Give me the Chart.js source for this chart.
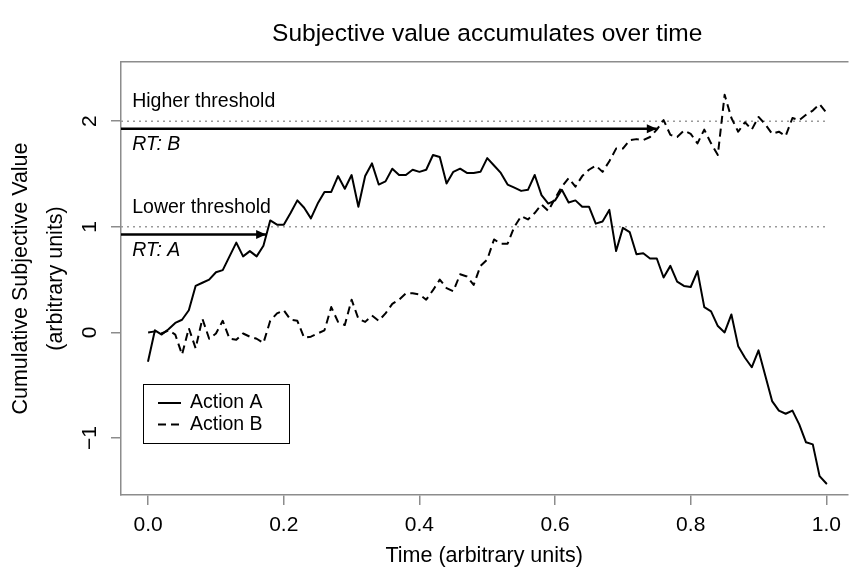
<!DOCTYPE html>
<html>
<head>
<meta charset="utf-8">
<script src="https://cdn.jsdelivr.net/npm/chart.js@4/dist/chart.umd.min.js"></script>
<style>
html,body{margin:0;padding:0;background:#fff;overflow:hidden}
#wrap{width:849px;height:569px;position:relative}
</style>
</head>
<body>
<div id="wrap"><canvas id="c" width="849" height="569"></canvas></div>
<script>
// ---------- data ----------
const chartTitle = 'Subjective value accumulates over time';
const xAxisTitle = 'Time (arbitrary units)';
const yAxisTitle = ['Cumulative Subjective Value', '(arbitrary units)'];
const seriesNames = ['Action A', 'Action B'];

const timePoints = [
  0.00,0.01,0.02,0.03,0.04,0.05,0.06,0.07,0.08,0.09,
  0.10,0.11,0.12,0.13,0.14,0.15,0.16,0.17,0.18,0.19,
  0.20,0.21,0.22,0.23,0.24,0.25,0.26,0.27,0.28,0.29,
  0.30,0.31,0.32,0.33,0.34,0.35,0.36,0.37,0.38,0.39,
  0.40,0.41,0.42,0.43,0.44,0.45,0.46,0.47,0.48,0.49,
  0.50,0.51,0.52,0.53,0.54,0.55,0.56,0.57,0.58,0.59,
  0.60,0.61,0.62,0.63,0.64,0.65,0.66,0.67,0.68,0.69,
  0.70,0.71,0.72,0.73,0.74,0.75,0.76,0.77,0.78,0.79,
  0.80,0.81,0.82,0.83,0.84,0.85,0.86,0.87,0.88,0.89,
  0.90,0.91,0.92,0.93,0.94,0.95,0.96,0.97,0.98,0.99,
  1.00
];

const actionA = [
  -0.27, 0.02,-0.02, 0.03, 0.09, 0.12, 0.21, 0.44, 0.47, 0.50,
   0.57, 0.59, 0.72, 0.85, 0.72, 0.77, 0.72, 0.82, 1.06, 1.02,
   1.02, 1.13, 1.25, 1.18, 1.08, 1.22, 1.33, 1.33, 1.48, 1.36,
   1.49, 1.19, 1.48, 1.60, 1.40, 1.43, 1.55, 1.49, 1.49, 1.54,
   1.52, 1.54, 1.68, 1.66, 1.41, 1.52, 1.55, 1.51, 1.51, 1.52,
   1.65, 1.58, 1.51, 1.40, 1.37, 1.34, 1.35, 1.49, 1.30, 1.22,
   1.25, 1.35, 1.23, 1.25, 1.19, 1.19, 1.03, 1.05, 1.16, 0.77,
   0.99, 0.95, 0.74, 0.75, 0.70, 0.70, 0.52, 0.63, 0.48, 0.44,
   0.43, 0.58, 0.24, 0.20, 0.06, 0.00, 0.17,-0.13,-0.24,-0.33,
  -0.17,-0.41,-0.65,-0.74,-0.77,-0.74,-0.87,-1.04,-1.06,-1.36,
  -1.43
];

const actionB = [
   0.00, 0.01,-0.01, 0.02,-0.02,-0.21, 0.04,-0.15, 0.13,-0.06,
  -0.01, 0.11,-0.06,-0.07,-0.01,-0.04,-0.06,-0.10, 0.11, 0.18,
   0.21, 0.12, 0.11,-0.05,-0.04,-0.01, 0.02, 0.24, 0.10, 0.07,
   0.31, 0.13, 0.10, 0.16, 0.11, 0.18, 0.27, 0.31, 0.37, 0.37,
   0.36, 0.31, 0.40, 0.50, 0.42, 0.39, 0.55, 0.53, 0.45, 0.63,
   0.69, 0.88, 0.84, 0.84, 1.00, 1.10, 1.07, 1.13, 1.21, 1.15,
   1.27, 1.38, 1.46, 1.38, 1.48, 1.54, 1.58, 1.52, 1.62, 1.74,
   1.74, 1.82, 1.83, 1.82, 1.85, 1.92, 2.01, 1.87, 1.85, 1.91,
   1.88, 1.79, 1.92, 1.79, 1.68, 2.25, 2.03, 1.90, 1.99, 1.92,
   2.04, 1.97, 1.88, 1.90, 1.86, 2.03, 2.01, 2.06, 2.10, 2.16,
   2.08
];

const thresholdNames = ['Higher threshold', 'Lower threshold'];
const thresholdValues = [2, 1];
const rtNames = ['RT: B', 'RT: A'];
const rtValues = [0.75, 0.174];

const xTickValues = [0, 0.2, 0.4, 0.6, 0.8, 1.0];
const xTickLabels = ['0.0', '0.2', '0.4', '0.6', '0.8', '1.0'];
const yTickValues = [-1, 0, 1, 2];
const yTickLabels = ['\u22121', '0', '1', '2'];

// ---------- style / layout ----------
const FONT = "'Liberation Sans', Arial, Helvetica, sans-serif";
const AXIS_GRAY = '#8c8c8c';
const X_MIN = -0.04, X_MAX = 1.031, Y_MIN = -1.539, Y_MAX = 2.56;
const ARROW_START = -0.04, THRESH_START = -0.04, THRESH_END = 1.0;
const ARROW_OFFSET = -0.073;         // arrows sit just under the threshold lines
const LABEL_X = -0.0235;
const labelOffsets = { name: 0.131, rt: -0.272 };
const legendAnchor = { x: -0.0074, y: -0.488 };

const toPts = ys => ys.map((y, i) => ({ x: timePoints[i], y }));

const datasets = [
  { label: seriesNames[0], data: toPts(actionA), borderColor: '#000', borderWidth: 2,
    pointRadius: 0, borderJoinStyle: 'round', borderCapStyle: 'round' },
  { label: seriesNames[1], data: toPts(actionB), borderColor: '#000', borderWidth: 2,
    borderDash: [8, 5], pointRadius: 0, borderJoinStyle: 'round' }
];
thresholdValues.forEach((t, k) => {
  datasets.push({ label: rtNames[k] + ' arrow', arrowHead: true,
    data: [{ x: ARROW_START, y: t + ARROW_OFFSET }, { x: rtValues[k], y: t + ARROW_OFFSET }],
    borderColor: '#000', borderWidth: 2.5, pointRadius: 0 });
});
thresholdValues.forEach((t, k) => {
  datasets.push({ label: thresholdNames[k], data: [{ x: THRESH_START, y: t }, { x: THRESH_END, y: t }],
    borderColor: '#9a9a9a', borderWidth: 1.5, borderDash: [2, 4], pointRadius: 0 });
});

const overlay = {
  id: 'overlay',
  afterDraw(chart) {
    const { ctx } = chart;
    const xs = chart.scales.x, ys = chart.scales.y;
    const px = v => xs.getPixelForValue(v), py = v => ys.getPixelForValue(v);
    ctx.save();
    ctx.fillStyle = '#000';
    // title
    ctx.font = `24.5px ${FONT}`;
    ctx.textAlign = 'center';
    ctx.textBaseline = 'alphabetic';
    ctx.fillText(chartTitle, px(0.5), 41);
    // threshold / RT labels
    ctx.textAlign = 'left';
    thresholdValues.forEach((t, k) => {
      ctx.font = `19.5px ${FONT}`;
      ctx.fillText(thresholdNames[k], px(LABEL_X), py(t + labelOffsets.name));
      ctx.font = `italic 19.5px ${FONT}`;
      ctx.fillText(rtNames[k], px(LABEL_X), py(t + labelOffsets.rt));
    });
    // arrowheads
    chart.data.datasets.forEach((ds, i) => {
      if (!ds.arrowHead) return;
      const pts = chart.getDatasetMeta(i).data;
      const tip = pts[pts.length - 1], prev = pts[pts.length - 2];
      const a = Math.atan2(tip.y - prev.y, tip.x - prev.x);
      const L = 10, W = 4.5;
      ctx.beginPath();
      ctx.moveTo(tip.x, tip.y);
      ctx.lineTo(tip.x - L * Math.cos(a) + W * Math.sin(a), tip.y - L * Math.sin(a) - W * Math.cos(a));
      ctx.lineTo(tip.x - L * Math.cos(a) - W * Math.sin(a), tip.y - L * Math.sin(a) + W * Math.cos(a));
      ctx.closePath();
      ctx.fillStyle = ds.borderColor;
      ctx.fill();
    });
    // legend
    const lx = Math.round(px(legendAnchor.x)), ly = Math.round(py(legendAnchor.y));
    ctx.strokeStyle = '#000';
    ctx.lineWidth = 1;
    ctx.strokeRect(lx + 0.5, ly + 0.5, 146, 59);
    ctx.fillStyle = '#000';
    seriesNames.forEach((name, k) => {
      const ds = chart.data.datasets[k];
      const yy = ly + 19 + k * 21.4;
      ctx.beginPath();
      ctx.setLineDash(ds.borderDash || []);
      ctx.lineWidth = 2;
      ctx.moveTo(lx + 15, yy);
      ctx.lineTo(lx + 38, yy);
      ctx.stroke();
      ctx.setLineDash([]);
      ctx.font = `19.5px ${FONT}`;
      ctx.textBaseline = 'middle';
      ctx.textAlign = 'left';
      ctx.fillText(name, lx + 47, yy);
    });
    ctx.restore();
  }
};

const gridOpts = { display: true, drawOnChartArea: false, drawTicks: true, tickLength: 10,
                   color: AXIS_GRAY, lineWidth: 1.5 };
const borderOpts = { display: true, color: AXIS_GRAY, width: 1.5 };

new Chart(document.getElementById('c'), {
  type: 'line',
  data: { datasets },
  options: {
    responsive: false,
    animation: false,
    devicePixelRatio: 1,
    parsing: true,
    layout: { padding: { top: 62, left: 0, right: 0, bottom: 0 } },
    plugins: { legend: { display: false }, title: { display: false }, tooltip: { enabled: false } },
    events: [],
    scales: {
      x: {
        type: 'linear', position: 'bottom', min: X_MIN, max: X_MAX,
        afterBuildTicks: ax => { ax.ticks = xTickValues.map(v => ({ value: v })); },
        afterFit: ax => { ax.height = 74; },
        ticks: {
          callback: v => xTickLabels[xTickValues.indexOf(v)],
          font: { family: FONT, size: 21 }, color: '#000', padding: 8,
          maxRotation: 0, minRotation: 0, autoSkip: false
        },
        grid: gridOpts,
        border: borderOpts,
        title: { display: true, text: xAxisTitle, color: '#000',
                 font: { family: FONT, size: 21.5 }, padding: { top: 0, bottom: 0 } }
      },
      xTop: {
        type: 'linear', position: 'top', min: X_MIN, max: X_MAX,
        afterBuildTicks: ax => { ax.ticks = []; },
        afterFit: ax => { ax.height = 0; },
        ticks: { display: false },
        grid: { display: true, drawOnChartArea: false, drawTicks: false, color: AXIS_GRAY, lineWidth: 1.5 },
        border: borderOpts
      },
      y: {
        type: 'linear', position: 'left', min: Y_MIN, max: Y_MAX,
        afterBuildTicks: ax => { ax.ticks = yTickValues.map(v => ({ value: v })); },
        afterFit: ax => { ax.width = 121; },
        ticks: {
          callback: v => yTickLabels[yTickValues.indexOf(v)],
          font: { family: FONT, size: 21 }, color: '#000', padding: 9,
          minRotation: 90, maxRotation: 90, crossAlign: 'center', autoSkip: false
        },
        grid: gridOpts,
        border: borderOpts,
        title: { display: true, text: yAxisTitle, color: '#000',
                 font: { family: FONT, size: 21.5, lineHeight: 1.65 }, padding: { top: 3, bottom: 0 } }
      }
    }
  },
  plugins: [overlay]
});
</script>
</body>
</html>
